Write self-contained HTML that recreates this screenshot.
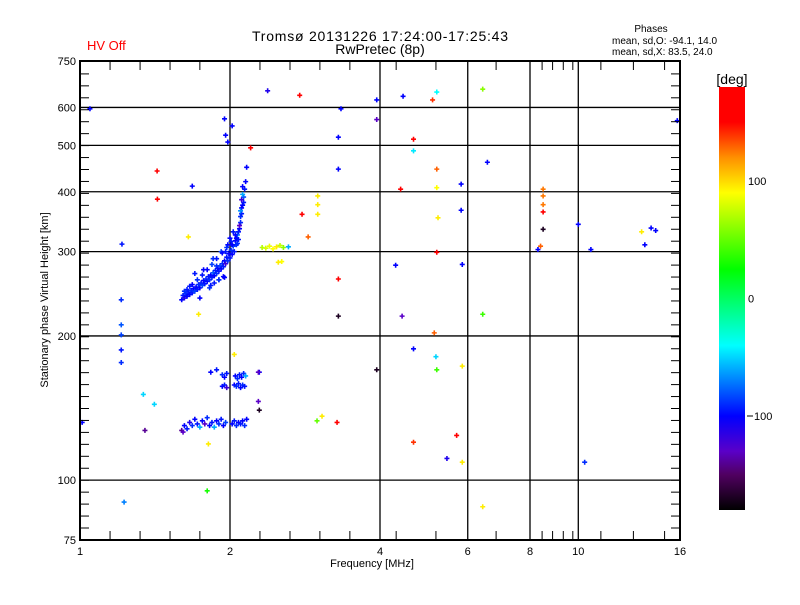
<!DOCTYPE html>
<html><head><meta charset="utf-8"><style>
body{margin:0;background:#fff;}
svg text{font-family:"Liberation Sans",sans-serif;}
</style></head><body>
<svg id="chart" width="800" height="600" xmlns="http://www.w3.org/2000/svg">
<defs>
<linearGradient id="cbar" x1="0" y1="1" x2="0" y2="0">
<stop offset="0" stop-color="#000000"/>
<stop offset="0.083" stop-color="#500060"/>
<stop offset="0.139" stop-color="#5a00c8"/>
<stop offset="0.222" stop-color="#0000ff"/>
<stop offset="0.306" stop-color="#0080ff"/>
<stop offset="0.389" stop-color="#00ffff"/>
<stop offset="0.569" stop-color="#00ff00"/>
<stop offset="0.75" stop-color="#ffff00"/>
<stop offset="0.833" stop-color="#ff9000"/>
<stop offset="0.917" stop-color="#ff0000"/>
<stop offset="1" stop-color="#ff0000"/>
</linearGradient>
</defs>
<text x="380" y="41" font-size="14" text-anchor="middle" textLength="256">Tromsø 20131226 17:24:00-17:25:43</text>
<text x="380" y="54" font-size="14" text-anchor="middle">RwPretec (8p)</text>
<text x="87" y="50" font-size="13" fill="#ff0000">HV Off</text>
<text x="651" y="32" font-size="10" text-anchor="middle">Phases</text>
<text x="612" y="44" font-size="10">mean, sd,O: -94.1, 14.0</text>
<text x="612" y="55" font-size="10">mean, sd,X:  83.5, 24.0</text>
<g id="grid"></g>
<g id="points"></g>
<rect x="80" y="61" width="600" height="479" fill="none" stroke="#000" stroke-width="2"/>
<g id="axes"></g>
<text x="372" y="567" font-size="11" text-anchor="middle">Frequency [MHz]</text>
<text x="48" y="300" font-size="11" text-anchor="middle" transform="rotate(-90 48 300)">Stationary phase Virtual Height [km]</text>
<rect x="719" y="87" width="26" height="423" fill="url(#cbar)"/>
<text x="732" y="84" font-size="14" text-anchor="middle">[deg]</text>
<g id="cbticks"></g>
</svg>
<script>
const xTickVals=[1,2,4,6,8,10,16];
const xTickLabels=["1","2","4","6","8","10","16"];
const yTickVals=[75,100,200,300,400,500,600,750];
const yTickLabels=["75","100","200","300","400","500","600","750"];
const cbTickVals=[100,0,-100];
const cbTickLabels=["100","0","-100"];
const freqs=[
1.047,1.214,1.21,1.21,1.21,1.21,1.21,1.428,1.68,1.43,1.65,1.34,1.41,1.35,1.01,1.226,1.8,1.81,2.04,1.73,
1.95,2.02,1.96,1.98,2.38,2.76,3.34,3.94,3.94,4.45,5.1,5.2,6.43,4.67,4.67,3.3,3.3,2.2,2.16,5.2,
4.4,5.2,5.82,6.57,3.0,3.0,3.0,2.87,2.79,5.23,5.82,8.5,8.5,8.5,8.5,8.5,8.4,8.3,10.0,10.6,
13.4,14.0,14.3,13.6,15.8,5.2,5.85,4.3,3.3,3.3,4.43,6.43,5.14,4.67,5.18,5.2,5.85,3.94,5.7,4.67,
5.45,5.85,10.3,6.43,3.06,2.99,3.28,2.29,2.28,2.28,2.29,
2.32,2.36,2.40,2.44,2.48,2.52,2.56,2.5,2.54,2.62,
1.60,1.61,1.62,1.63,1.64,1.65,1.66,1.67,1.68,1.69,1.70,1.71,1.72,1.73,1.74,1.75,1.76,1.77,1.78,1.79,
1.80,1.81,1.82,1.83,1.84,1.85,1.86,1.87,1.88,1.89,1.90,1.91,1.92,1.93,1.94,1.95,1.96,1.97,1.98,1.99,
2.00,2.01,2.02,2.03,2.04,2.05,2.06,2.07,2.08,2.09,2.10,2.11,2.12,2.13,2.14,2.12,2.11,2.10,2.08,2.06,
2.15,2.13,2.09,2.07,1.77,1.83,1.90,1.95,1.70,1.85,1.92,2.00,2.03,1.98,1.88,2.11,2.12,2.10,
1.64,1.68,1.72,1.76,1.80,1.84,1.88,1.93,1.97,2.01,2.05,1.90,1.96,2.02,1.62,1.66,1.74,1.82,1.86,1.94,
1.62,1.64,1.66,1.68,1.70,1.72,1.74,1.76,1.78,1.80,1.82,1.84,1.86,1.88,1.90,1.92,1.94,1.96,2.02,2.04,
2.06,2.08,2.10,2.12,2.14,2.16,1.60,1.61,
1.83,1.88,1.93,1.95,1.97,2.05,2.07,2.09,2.11,2.13,2.15,
1.93,1.95,1.97,2.04,2.06,2.08,2.10,2.12,2.14
];
const heights=[
596,311,238,211,201,187,176,442,411,386,322,151,144,127,132,90,95,119,183,222,
568,549,525,508,650,636,596,622,566,633,622,646,655,515,487,520,446,494,450,446,
405,408,415,461,392,376,359,322,359,353,366,405,392,376,363,334,308,303,342,303,
330,336,332,310,563,299,282,281,263,220,220,222,203,188,181,170,173,170,124,120,
111,109,109,88,136,133,132,168,168,146,140,
306,305,308,304,307,309,306,285,286,307,
238,243,240,245,242,247,244,249,246,251,248,253,250,256,252,258,255,261,257,263,
260,266,262,268,265,271,267,274,270,277,273,280,276,283,279,287,283,292,287,297,
291,302,296,308,300,316,310,325,318,335,345,360,375,390,405,395,370,355,330,320,
420,380,340,312,275,255,262,265,270,290,300,320,330,310,280,385,410,365,
250,256,262,268,275,282,290,298,306,315,325,262,300,310,248,254,240,252,258,266,
130,128,132,130,134,131,129,133,131,135,130,132,129,133,131,134,130,132,131,133,
130,132,131,133,130,134,127,126,
168,170,166,164,167,165,163,166,164,167,165,
157,158,156,158,157,159,156,158,157
];
const phases=[
-100,-95,-90,-80,-85,-95,-90,160,-100,160,95,-50,-50,-140,-100,-70,30,95,95,95,
-100,-100,-100,-100,-110,150,-100,-100,-130,-100,140,-40,60,150,-45,-100,-100,160,-100,130,
160,90,-100,-100,95,95,95,130,160,95,-100,125,125,125,160,-170,130,-100,-100,-100,
95,-100,-100,-100,-100,160,-100,-100,160,-170,-130,40,130,-100,-50,40,95,-170,150,140,
-110,95,-90,95,95,50,160,-100,-130,-130,-170,
70,80,85,90,95,75,60,95,90,-60,
-100,-95,-110,-90,-100,-95,-100,-90,-95,-100,-85,-100,-95,-90,-100,-95,-85,-100,-95,-90,
-100,-95,-90,-100,-95,-80,-100,-95,-90,-100,-95,-85,-100,-90,-95,-100,-120,-95,-90,-100,
-95,-90,-100,-85,-95,-100,-90,-70,-95,-100,-90,-95,-100,-80,-95,-60,-100,-90,-95,-100,
-100,-95,-130,-90,-100,-95,-90,-100,-95,-90,-85,-100,-95,-100,-90,-120,-100,-65,
-95,-100,-90,-95,-100,-85,-95,-100,-90,-95,-100,-90,-95,-100,-90,-95,-100,-90,-95,-100,
-100,-95,-110,-90,-100,-95,-60,-100,-130,-90,-100,-95,-60,-100,-90,-95,-100,-85,-100,-95,
-90,-100,-95,-100,-90,-100,-140,-130,
-100,-95,-90,-100,-95,-100,-90,-95,-100,-90,-60,
-100,-95,-120,-100,-90,-95,-100,-90,-95
];
const NS='http://www.w3.org/2000/svg';
const X0=80,X1=680,Y0=540,Y1=61;
function xs(f){return X0+(X1-X0)*Math.log10(f)/Math.log10(16);}
function ys(h){return Y0-(Y0-Y1)*Math.log10(h/75)/Math.log10(10);}
function cbY(v){return 510-(v+180)/360*423;}
const stops=[[-180,[0,0,0]],[-150,[80,0,96]],[-130,[90,0,200]],[-100,[0,0,255]],[-70,[0,128,255]],[-40,[0,255,255]],[25,[0,255,0]],[90,[255,255,0]],[120,[255,144,0]],[150,[255,0,0]],[180,[255,0,0]]];
function cmap(v){for(let i=0;i<stops.length-1;i++){const a=stops[i],b=stops[i+1];if(v<=b[0]){const t=(v-a[0])/(b[0]-a[0]);const c=a[1].map((q,k)=>Math.round(q+(b[1][k]-q)*t));return 'rgb('+c.join(',')+')';}}return 'rgb(255,0,0)';}
function mk(tag,attrs,parent){const e=document.createElementNS(NS,tag);for(const k in attrs)e.setAttribute(k,attrs[k]);parent.appendChild(e);return e;}
const grid=document.getElementById('grid'),axes=document.getElementById('axes'),pts=document.getElementById('points'),cbt=document.getElementById('cbticks');
[2,4,6,8,10].forEach(f=>{const l=mk('line',{x1:xs(f),x2:xs(f),y1:Y1,y2:Y0,stroke:'#000','stroke-width':1.3},grid);

});
[100,200,300,400,500,600].forEach(h=>{const l=mk('line',{x1:X0,x2:X1,y1:ys(h),y2:ys(h),stroke:'#000','stroke-width':1.3},grid);

});
const minorX=[1.149,1.32,1.516,1.74,2.297,2.639,3.03,3.48,4.31,5.18,6.84,8.46,8.88,9.33,9.75,11.1,12.9,14.9];
minorX.forEach(f=>{const x=xs(f);
const a=mk('line',{x1:x,x2:x,y1:Y0,y2:Y0-9,stroke:'#000','stroke-width':1},axes);


const b=mk('line',{x1:x,x2:x,y1:Y1,y2:Y1+9,stroke:'#000','stroke-width':1},axes);

});
for(let y=Y0-12;y>Y1+4;y-=11.95){
const a=mk('line',{x1:X0,x2:X0+9,y1:y,y2:y,stroke:'#000','stroke-width':1},axes);


const b=mk('line',{x1:X1,x2:X1-9,y1:y,y2:y,stroke:'#000','stroke-width':1},axes);

}
xTickVals.forEach((v,i)=>{const t=mk('text',{x:xs(v),y:555,'font-size':11,'text-anchor':'middle'},axes);t.textContent=xTickLabels[i];

});
yTickVals.forEach((v,i)=>{const t=mk('text',{x:76,y:ys(v)+4,'font-size':11,'text-anchor':'end'},axes);t.textContent=yTickLabels[i];

});
cbTickVals.forEach((v,i)=>{const y=cbY(v);
if(v<0){const l=mk('line',{x1:747,x2:753,y1:y,y2:y,stroke:'#000'},cbt);}
const t=mk('text',{x:v<0?754:748,y:y+4,'font-size':11},cbt);t.textContent=cbTickLabels[i].replace('-','');

});
freqs.forEach((f,i)=>{const x=xs(f),y=ys(heights[i]),c=cmap(phases[i]);
const p=mk('path',{d:`M${x-2.5},${y}H${x+2.5}M${x},${y-2.5}V${y+2.5}`,stroke:c,'stroke-width':1.6,fill:'none'},pts);

});
</script>
</body></html>
